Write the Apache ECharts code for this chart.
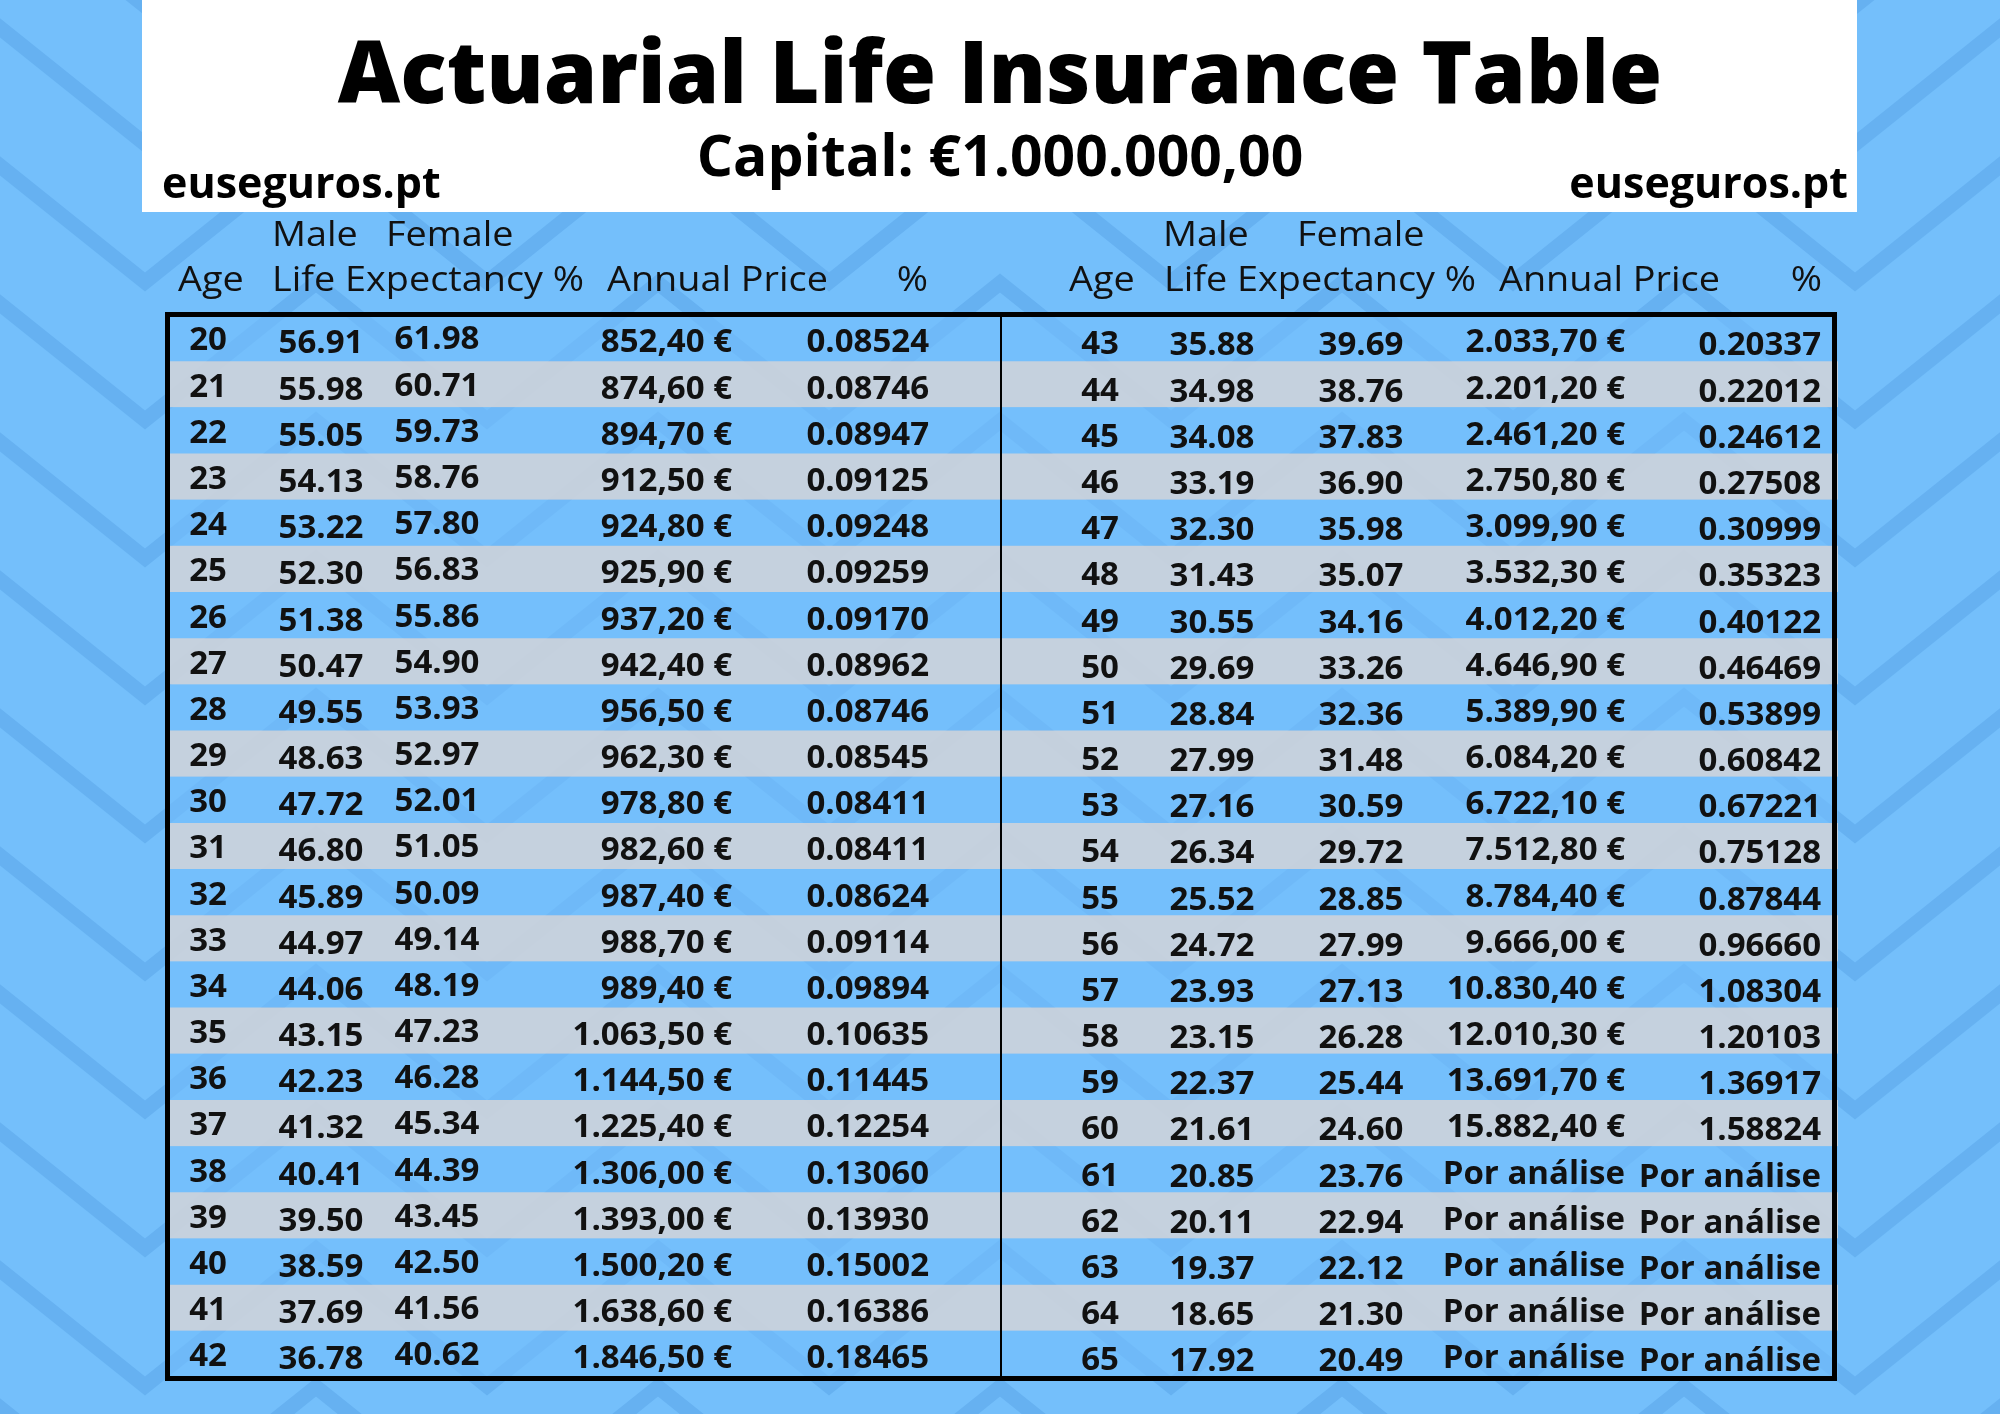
<!DOCTYPE html>
<html><head><meta charset="utf-8">
<script src="https://cdn.jsdelivr.net/npm/echarts@6/dist/echarts.min.js"></script>
<style>html,body{margin:0;padding:0;background:#74BFFB}#c{width:2000px;height:1414px}</style>
</head><body><div id="c"></div>
<script>
// ---------- data ----------
const titleText = 'Actuarial Life Insurance Table';
const subtitleText = 'Capital: €1.000.000,00';
const brandText = 'euseguros.pt';
const pendingText = 'Por análise';
const headerTop = ['Male', 'Female'];
const headerBottom = ['Age', 'Life Expectancy %', 'Annual Price', '%'];

const ages = [20,21,22,23,24,25,26,27,28,29,30,31,32,33,34,35,36,37,38,39,40,41,42,
              43,44,45,46,47,48,49,50,51,52,53,54,55,56,57,58,59,60,61,62,63,64,65];
const maleLE = [56.91,55.98,55.05,54.13,53.22,52.30,51.38,50.47,49.55,48.63,47.72,46.80,45.89,44.97,44.06,43.15,42.23,41.32,40.41,39.50,38.59,37.69,36.78,
                35.88,34.98,34.08,33.19,32.30,31.43,30.55,29.69,28.84,27.99,27.16,26.34,25.52,24.72,23.93,23.15,22.37,21.61,20.85,20.11,19.37,18.65,17.92];
const femaleLE = [61.98,60.71,59.73,58.76,57.80,56.83,55.86,54.90,53.93,52.97,52.01,51.05,50.09,49.14,48.19,47.23,46.28,45.34,44.39,43.45,42.50,41.56,40.62,
                  39.69,38.76,37.83,36.90,35.98,35.07,34.16,33.26,32.36,31.48,30.59,29.72,28.85,27.99,27.13,26.28,25.44,24.60,23.76,22.94,22.12,21.30,20.49];
const annualPrice = [852.40,874.60,894.70,912.50,924.80,925.90,937.20,942.40,956.50,962.30,978.80,982.60,987.40,988.70,989.40,1063.50,1144.50,1225.40,1306.00,1393.00,1500.20,1638.60,1846.50,
                     2033.70,2201.20,2461.20,2750.80,3099.90,3532.30,4012.20,4646.90,5389.90,6084.20,6722.10,7512.80,8784.40,9666.00,10830.40,12010.30,13691.70,15882.40,null,null,null,null,null];
const pricePct = [0.08524,0.08746,0.08947,0.09125,0.09248,0.09259,0.09170,0.08962,0.08746,0.08545,0.08411,0.08411,0.08624,0.09114,0.09894,0.10635,0.11445,0.12254,0.13060,0.13930,0.15002,0.16386,0.18465,
                  0.20337,0.22012,0.24612,0.27508,0.30999,0.35323,0.40122,0.46469,0.53899,0.60842,0.67221,0.75128,0.87844,0.96660,1.08304,1.20103,1.36917,1.58824,null,null,null,null,null];

// ---------- layout / style ----------
const ROWS = 23;
const BG = '#74BFFB', STRIPE = '#66B1F1', GRAY = 'rgba(203,210,219,0.93)', BLUE_ROW = 'rgba(116,191,251,0.62)';
const FONT = '"Open Sans", "Noto Sans", sans-serif';
const ROW_SHIFT = 3;
const halves = [
  { x0: 168, x1: 1001,
    cols: [[208,'center',0],[321,'center',3],[437,'center',-1],[732,'right',2],[929,'right',2]],
    head: { male: 272, female: 386, age: 178, le: 272, ap: 607, pct: 928 } },
  { x0: 1001, x1: 1838,
    cols: [[1100,'center',4],[1212,'center',5],[1361,'center',5],[1625,'right',2],[1821,'right',5]],
    head: { male: 1163, female: 1297, age: 1069, le: 1164, ap: 1499, pct: 1822 } }
];

function fmtPrice(v) {
  if (v == null) return pendingText;
  const p = v.toFixed(2).split('.');
  return p[0].replace(/\B(?=(\d{3})+(?!\d))/g, '.') + ',' + p[1] + ' €';
}
function fmtPct(v) { return v == null ? pendingText : v.toFixed(5); }
function cellTexts(idx) {
  return [String(ages[idx]), maleLE[idx].toFixed(2), femaleLE[idx].toFixed(2), fmtPrice(annualPrice[idx]), fmtPct(pricePct[idx])];
}

// ---------- background chevrons ----------
const graphics = [];
for (let k = -1; k <= 12; k++) {
  const y0 = 6 + 138 * k;
  const pts = [];
  for (let j = -1; j <= 12; j++) {
    pts.push([145 + 171 * j, (Math.abs(j % 2) === 0) ? y0 : y0 - 137]);
  }
  graphics.push({ type: 'polyline', silent: true, z: -10, shape: { points: pts }, style: { stroke: STRIPE, lineWidth: 15, fill: null, lineJoin: 'miter' } });
}
// white header box
graphics.push({ type: 'rect', z: 1, shape: { x: 142, y: 0, width: 1715, height: 212 }, style: { fill: '#ffffff' } });
graphics.push({ type: 'text', z: 2, style: { text: titleText, x: 1000, y: 78, align: 'center', verticalAlign: 'middle', font: '800 86px ' + FONT, fill: '#000' } });
graphics.push({ type: 'text', z: 2, style: { text: subtitleText, x: 1000, y: 160, align: 'center', verticalAlign: 'middle', font: 'bold 57px ' + FONT, fill: '#000' } });
graphics.push({ type: 'text', z: 2, style: { text: brandText, x: 162, y: 186, align: 'left', verticalAlign: 'middle', font: 'bold 43px ' + FONT, fill: '#000' } });
graphics.push({ type: 'text', z: 2, style: { text: brandText, x: 1848, y: 186, align: 'right', verticalAlign: 'middle', font: 'bold 43px ' + FONT, fill: '#000' } });
// column headers (slightly widened like the original lettering)
halves.forEach(function (h) {
  const items = [[headerTop[0], h.head.male, 236, 'left'], [headerTop[1], h.head.female, 236, 'left'],
                 [headerBottom[0], h.head.age, 281, 'left'], [headerBottom[1], h.head.le, 281, 'left'],
                 [headerBottom[2], h.head.ap, 281, 'left'], [headerBottom[3], h.head.pct, 281, 'right']];
  items.forEach(function (it) {
    graphics.push({ type: 'text', z: 2, x: it[1], y: it[2], scaleX: 1.08, scaleY: 1,
      style: { text: it[0], x: 0, y: 0, align: it[3], verticalAlign: 'middle', font: '35px ' + FONT, fill: '#111' } });
  });
});
// table frame + divider
graphics.push({ type: 'rect', z: 100, shape: { x: 167.5, y: 314.5, width: 1667, height: 1064 }, style: { fill: null, stroke: '#000', lineWidth: 5 } });
graphics.push({ type: 'line', z: 100, shape: { x1: 1001, y1: 316, x2: 1001, y2: 1378 }, style: { stroke: '#000', lineWidth: 2 } });

// ---------- series ----------
const rowData = ages.slice(0, ROWS).map(function (a, i) { return [0, i]; });

const bandSeries = {
  type: 'custom', name: 'rows', coordinateSystem: 'cartesian2d', clip: false, silent: true, z: 2,
  data: rowData, encode: { x: 0, y: 1 },
  renderItem: function (params, api) {
    const i = api.value(1);
    const c = api.coord([0, i]);
    const hgt = api.size([0, 1])[1];
    const fill = (i % 2 === 1) ? GRAY : BLUE_ROW;
    return { type: 'group', children: halves.map(function (h) {
      const a = api.coord([h.x0, i])[0], b = api.coord([h.x1, i])[0];
      return { type: 'rect', shape: { x: a, y: c[1] - hgt / 2, width: b - a, height: hgt }, style: { fill: fill } };
    }) };
  }
};

const textSeries = halves.map(function (h, hi) {
  return {
    type: 'custom', name: 'half' + hi, coordinateSystem: 'cartesian2d', clip: false, silent: true, z: 5,
    data: rowData, encode: { x: 0, y: 1 },
    renderItem: function (params, api) {
      const i = api.value(1);
      const idx = hi * ROWS + i;
      const texts = cellTexts(idx);
      return { type: 'group', children: h.cols.map(function (col, ci) {
        const p = api.coord([col[0], i]);
        return { type: 'text', style: { text: texts[ci], x: p[0], y: p[1] + col[2] + ROW_SHIFT, align: col[1], verticalAlign: 'middle',
          font: 'bold 33px ' + FONT, fill: '#111' } };
      }) };
    }
  };
});

const chart = echarts.init(document.getElementById('c'), null, { width: 2000, height: 1414 });
chart.setOption({
  backgroundColor: BG,
  animation: false,
  grid: { left: 0, right: 0, top: 315, height: 1062, containLabel: false },
  xAxis: { type: 'value', min: 0, max: 2000, show: false },
  yAxis: { type: 'category', inverse: true, data: ages.slice(0, ROWS).map(String), show: false, boundaryGap: true },
  graphic: { elements: graphics },
  series: [bandSeries].concat(textSeries)
});
</script></body></html>
